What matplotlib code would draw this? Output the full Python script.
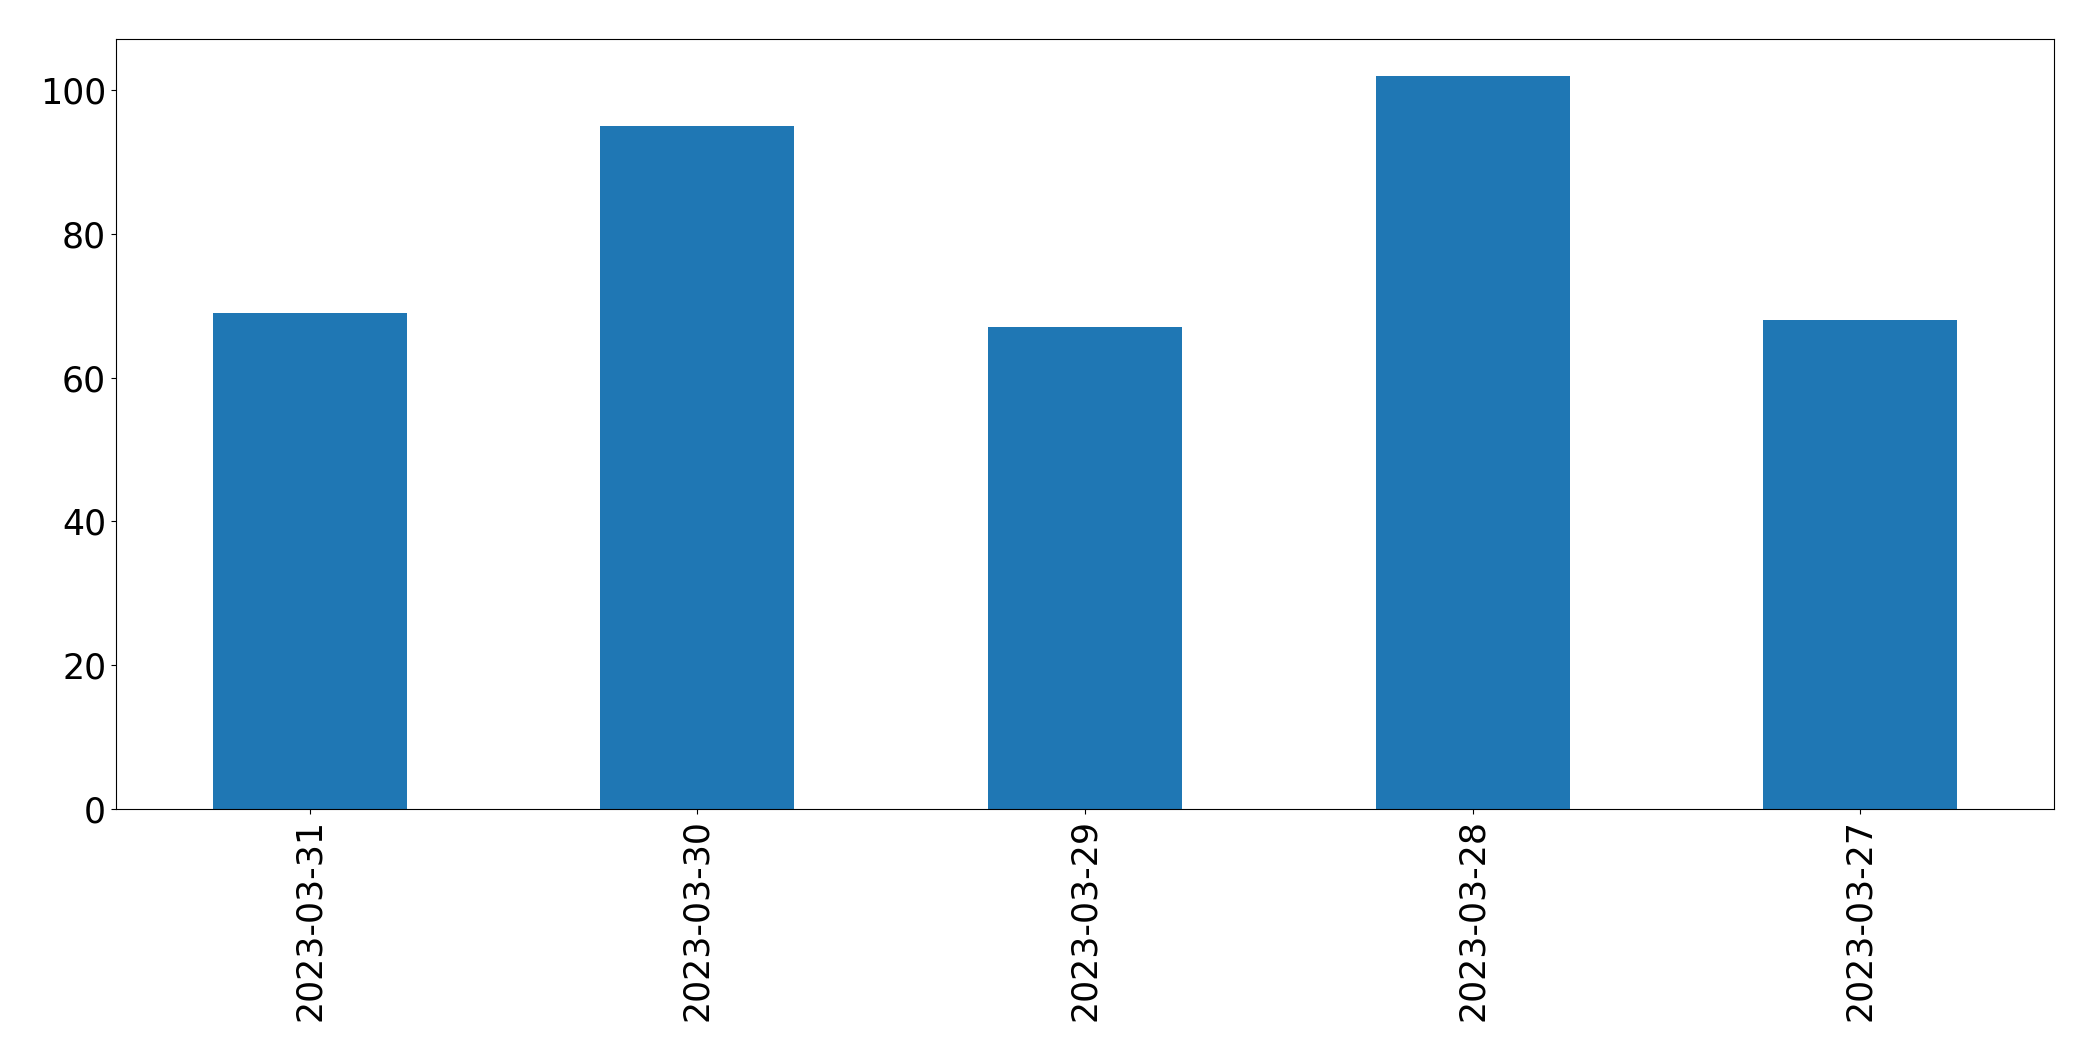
import pandas as pd
import matplotlib.pyplot as plt

# daily counts, newest first
dates = ['2023-03-31', '2023-03-30', '2023-03-29', '2023-03-28', '2023-03-27']
counts = [69, 95, 67, 102, 68]

s = pd.Series(counts, index=dates)

fig, ax = plt.subplots(figsize=(20.93, 10.61), dpi=100)
s.plot(kind='bar', ax=ax, fontsize=25)

plt.subplots_adjust(left=0.0554, right=0.9814, top=0.9632, bottom=0.2375)
plt.savefig('out.png', dpi=100)
plt.close()
